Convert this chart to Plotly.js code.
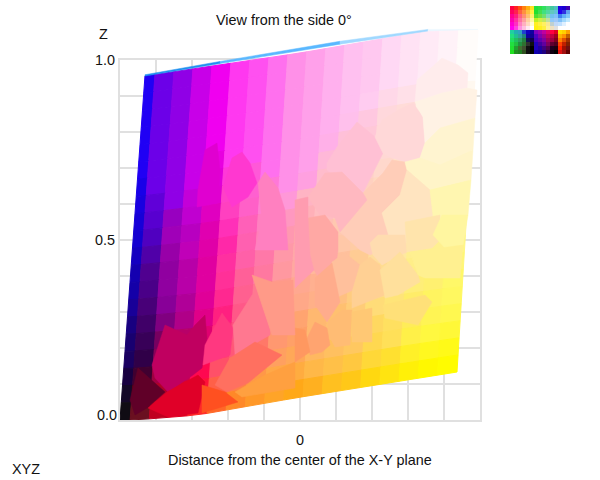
<!DOCTYPE html>
<html><head><meta charset="utf-8"><script src="https://cdn.plot.ly/plotly-3.0.1.min.js"></script>
<style>html,body{margin:0;padding:0;background:#fff}</style></head><body><div id="g" style="width:600px;height:480px"></div>
<script>
// silhouette edges, in axis units
const topEdgeX=[-0.4306,0,0.3556,0.4944];
const topEdgeY=[0.9556,1.0194,1.0806,1.0833];
const bottomEdgeX=[-0.5,-0.4583,-0.2833,-0.0139,0.4361];
const bottomEdgeY=[0,0,0.0139,0.0611,0.1333];
const colEdges=[0,0.03,0.087,0.144,0.201,0.258,0.315,0.372,0.429,0.486,0.543,0.6,0.657,0.714,0.771,0.828,0.885,0.942,1];
// patch colours, one list per column, top to bottom
const patchCols=[
"2000f4 2000f4 2000f4 2000f4 2000f4 2000f4 1800e8 1800e0 1600d8 1400d0 1400c0 1400b0 1400a8 180098 180080 180070 1a0060 180040 140828 100c14",
"6c00e8 6c00e8 6c00e8 6c00e8 6c00e8 6c00e8 6c00e8 6000d8 5800d0 5000c0 5000a8 500090 4a0088 480078 400068 380058 300048 400030 580018 6a1020",
"9000e6 9000e6 9000e6 9000e6 9000e6 9000e6 9000e6 9000e6 9800c0 a000b8 9800a8 9000a0 9000a0 880098 800080 780060 880058 a00040 b00028 c00020",
"c800e8 c800e8 c800e8 c800e8 c800e8 c800e8 c800e8 c400d8 c000d0 b800c0 c000b8 b800a8 b800a8 b00098 b00088 b80068 c00058 c80050 d80030 e00020",
"f000f0 f000f0 f000f0 f000f0 f000f0 e800e0 e000d8 e000d0 e000c0 e000b0 e000a8 e000a0 e000a0 e00098 e00088 e00070 e00060 ff0850 ff1038 ff2828",
"ff38f0 ff38f0 ff38f0 ff38f0 ff38f0 ff38f0 ff38d8 ff40c8 ff40c0 ff30b8 ff28a8 ff30a0 ff3098 ff2890 ff2080 ff3078 ff4070 ff5068 ff6048 ff6828",
"ff50f0 ff50f0 ff50f0 ff50f0 ff50f0 ff50f0 ff58d8 ff60d0 ff60c8 ff60b8 ff60b0 ff60a8 ff6098 ff6090 ff5888 ff5080 ff5878 ff6868 ff8048 ff8828",
"ff70ee ff70ee ff70ee ff70ee ff70ee ff70ee ff70ee ff78d8 ff80d0 ff80c0 ff80b8 ff78a8 ff78a0 ff7890 ff7880 ff7070 ff7868 ff9060 ff9848 ff9828",
"ff90e8 ff90e8 ff90e8 ff90e8 ff90e8 ff90e8 ff90e8 ff90e8 ff98d8 ff98c0 ff98b0 ff98a8 ff98a0 ff9890 ff9888 ff9878 ff9870 ffa060 ffa848 ffa428",
"ffa0ea ffa0ea ffa0ea ffa0ea ffa0ea ffa0ea ffa0ea ffa0e0 ffb4c4 ffb0b8 ffa8a8 ffa8a8 ffa8a0 ffa890 ffa888 ffa470 ffa068 ffa858 ffac40 ffa818",
"ffb0ee ffb0ee ffb0ee ffb0ee ffb0ee ffb0e8 ffb8d8 ffbccc ffbcc4 ffbcc0 ffc0b4 ffc0a8 ffb89c ffb090 ffb088 ffb870 ffb870 ffb860 ffb848 ffb020",
"ffc0f0 ffc0f0 ffc0f0 ffc0f0 ffc0ec ffc0d8 ffc0d4 ffc0d0 ffc8c4 ffcabc ffc8b0 ffc8a8 ffc09c ffc090 ffc080 ffc070 ffc070 ffc060 ffc048 ffc020",
"ffc8f0 ffc8f0 ffc8f0 ffccf0 ffc8e0 ffc8d8 ffcfd4 ffd0c8 ffd0c0 ffd0b8 ffd0b4 ffcca4 ffcc94 ffcc90 ffcc80 ffcc78 ffcc70 ffc860 ffc840 ffc818",
"ffd8f4 ffd8f4 ffd8f4 ffd8e8 ffd8dc ffd8d8 ffd8d4 ffd8cc ffd8c0 ffd8bc ffdcac ffdca8 ffdc9c ffdc90 ffdc88 ffdc78 ffd860 ffd850 ffd838 ffd810",
"ffe2f4 ffe2f4 ffe2f4 ffe0e8 ffdcd8 ffe0d8 ffe2d4 ffe4c8 ffe4c0 ffe4b4 ffe8b0 ffe8a4 ffe8a0 ffe490 ffe488 ffe478 ffe060 ffe058 ffe030 ffe410",
"ffeaf6 ffeaf6 ffeaf6 fff0f0 fff0e4 fff0e0 fff0d4 fff0c8 fff2c0 fff2b0 fff0a8 fff0a0 ffee90 ffee88 ffee78 ffec68 ffec58 fff048 fff028 fff008",
"fff2f8 fff2f8 fff2f8 fff2f0 fff2e4 fff2e0 fff4d4 fff4c4 fff4b8 fff4a8 fff4a0 fff49c fff090 fff080 fff070 fff460 fff454 fff840 fff820 fff800",
"fffcfa fffcfa fffcfa fff8f0 fff8e8 fff6d8 fff6d0 fff6c0 fff6b0 fff6a4 fff6a0 fff698 fff684 fff678 fff868 fff860 fff850 fff838 fffa18 fffc00"
];
// larger irregular colour regions: colour, then outline points (distance, height) in 1/360 axis units
const regionColors=["#ffc0d4","#ffd8d8","#ffcdb8","#ffecec","#fff2e4","#fff4d0","#fff4c8","#ffe4c0","#fff6b0","#ffb8c0","#ffa8a4","#ff9cb0","#ffc09c","#ffdcb0","#ffe4ac","#fff6a0","#ffd094","#ffe09c","#fff090","#ffac8c","#ffbc74","#ffc874","#ffe078","#ffa470","#ff9860","#e000d0","#ff38d0","#ff80c0","#c00060","#ff3880","#ff7890","#ff9a88","#ff7060","#ffa040","#e00028","#ff5020","#600028"];
const regionOutlines=[
"57,298 75,283 83,267 63,227 52,230 27,250 27,257 37,273",
"75,283 82,300 102,312 113,317 123,303 125,277 120,262 105,258 92,262 83,267",
"63,227 83,247 92,260 105,258 107,250 107,220 100,200 85,172 70,165 60,170 40,188 67,220",
"132,353 142,362 158,355 168,347 167,332 142,327 115,318 117,340",
"115,318 142,327 167,332 177,330 175,302 140,292 125,277 123,303",
"125,277 140,292 175,302 173,270 140,255 120,262",
"120,262 140,255 173,270 171,240 130,230 107,250 105,258",
"107,250 130,230 133,205 115,175 90,180 82,207 100,225",
"130,230 171,240 168,205 140,188 133,205",
"8,223 25,247 42,248 63,227 67,220 40,188 35,202 25,205 20,205",
"8,202 25,205 38,188 38,170 37,162 20,140 14,150 10,165",
"-5,220 8,223 8,202 10,165 14,150 -5,132",
"32,158 45,167 60,155 58,132 35,122 32,132",
"70,177 78,185 105,185 107,168 82,155 73,165",
"105,198 140,205 140,180 132,172 107,168",
"133,185 142,205 168,205 163,175 145,172",
"60,155 70,163 80,155 85,125 52,112 52,128",
"80,150 100,168 118,145 120,138 98,125 85,122",
"110,168 142,172 163,175 160,142 125,142 118,145",
"15,142 32,157 40,118 27,98 15,115",
"28,98 42,110 52,110 50,75 35,73 27,88",
"52,108 72,112 72,78 52,78",
"83,115 125,125 132,118 118,95 85,102",
"7,82 15,98 27,92 30,75 22,68 10,65",
"-5,92 5,90 10,68 -5,58",
"-95,270 -83,277 -80,250 -82,217 -103,213 -102,230",
"-68,262 -58,268 -50,257 -43,237 -52,223 -68,213 -77,233",
"-42,237 -35,248 -22,232 -15,210 -12,170 -45,170 -38,200",
"-148,55 -135,95 -113,85 -105,95 -95,105 -93,82 -98,52 -107,45 -132,28 -145,42",
"-95,75 -78,107 -67,92 -70,65 -97,55",
"-67,95 -48,125 -28,125 -30,85 -65,65",
"-48,145 -28,138 -7,140 -5,85 -28,85",
"-70,62 -45,78 -18,65 -52,37 -73,28 -85,35",
"-65,28 -35,45 -5,58 -5,32 -58,23",
"-133,28 -102,45 -95,38 -102,7 -132,3 -152,12",
"-98,35 -75,28 -62,18 -98,7",
"-170,20 -162,52 -135,28 -153,12 -165,5"
];
// thin blue rim along the top edge
const rimColors=["#1e90f0","#5ab8ff","#a0d8ff","#eaf6ff"];
const rimX=[[-0.4306,-0.2222],[-0.2222,0.1111],[0.1111,0.3556],[0.3556,0.4944]];
const rimLow=[[0.9556,0.9900],[0.9900,1.0440],[1.0440,1.0806],[1.0806,1.0833]];
const rimHigh=[[0.9590,0.9960],[0.9960,1.0520],[1.0520,1.0850],[1.0850,1.0850]];
// thumbnail colours
const thumbRows=[
"ff0040 ff2020 ff5010 ff8010 ffb010 ffe020 20e040 30e040 30e060 50d880 40c8a0 50c0c0 2000e0 1800d0 4000b0",
"ff0060 ff2050 ff6040 ff9040 ffc040 fff040 20e030 40e050 40e080 50d8a0 60c8c0 60c0d8 2000f0 3030e0 60a0f0",
"ff0090 ff2080 ff6080 ff9070 ffc070 fff070 50e030 70e040 70e070 80d8c0 70c0f0 80c0f8 4080f0 60b0f8 80c8f8",
"ff00b0 ff30a0 ff70a0 ffa0a0 ffd0a0 fff8a0 c0f020 d0f040 c0e860 c0e0a0 90c8f8 a0c8f8 80c0f8 a0d8fc c0e8ff",
"ff00d0 ff30c0 ff80c0 ffb0c0 ffd8c0 fffcd0 fff020 fff040 fff060 f8e890 c0d0d0 c0d8f8 c0e0ff e0f0ff ffffff",
"ff00f0 ff40e0 ff90e0 ffc0e0 ffe8f0 ffffff fff010 fff020 fff040 fff090 f0e0c0 e0e0e0 ffffff ffffff ffffff",
"20d0a0 20b0b0 30a0c0 2040d0 1000c0 1000a0 8000c0 a000b0 c000a0 e00070 ff0040 e00020 ffe000 ffd000 ffa000",
"20e080 20c090 30a0a0 208080 1000a0 100090 5000c0 8000b0 a00090 c00060 c00040 a00020 ffb000 ff9000 c06000",
"20e060 20c060 30a060 208040 101050 100050 4000c0 6000b0 8000a0 a00060 a00040 800020 ff8000 e05000 a03000",
"20e040 20c040 209040 307030 303030 101010 2000c0 4000a0 6000a0 800060 600030 500020 ff4000 c02000 802000",
"20e030 20a030 407030 405030 101010 000000 2000c0 2000a0 400080 500050 200020 200010 ff2000 a01000 701010",
"20e020 209020 208020 305020 101010 000000 1000b0 1000a0 200080 300040 100010 000000 e01010 a01010 600000"
];
const gridVals=[-0.5,-0.4,-0.3,-0.2,-0.1,0,0.1,0.2,0.3,0.4,0.5];
const gridText=["","","","","","0","","","","",""];
const zVals=[0,0.1,0.2,0.3,0.4,0.5,0.6,0.7,0.8,0.9,1];
const zText=["","","","","","0.5","","","","","1.0"];

function along(xs,ys,x){for(let i=0;i<xs.length-1;i++){if(x<=xs[i+1]){const t=(x-xs[i])/(xs[i+1]-xs[i]);return ys[i]+t*(ys[i+1]-ys[i]);}}return ys[ys.length-1];}
const cols=patchCols.map(r=>r.split(" ").map(h=>"#"+h));
const nc=cols.length,nr=cols[0].length;
function vertex(i,j){
  const u=colEdges[i],v=j/nr;
  const tx=topEdgeX[0]+u*(topEdgeX[3]-topEdgeX[0]),bx=bottomEdgeX[0]+u*(bottomEdgeX[4]-bottomEdgeX[0]);
  const ty=along(topEdgeX,topEdgeY,tx),by=along(bottomEdgeX,bottomEdgeY,bx);
  return [tx+v*(bx-tx),ty+v*(by-ty)];
}
const traces=[];
traces.push({type:"scatter",mode:"none",x:[0],y:[0],hoverinfo:"skip",showlegend:false});
function poly(X,Y,c,w){traces.push({type:"scatter",mode:"lines",x:X,y:Y,xaxis:"x3",yaxis:"y3",fill:"toself",fillcolor:c,line:{color:c,width:w},hoverinfo:"skip",showlegend:false});}
for(let j=0;j<nr;j++)for(let i=0;i<nc;i++){
  const p=[vertex(i,j),vertex(i+1,j),vertex(i+1,j+1),vertex(i,j+1),vertex(i,j)];
  poly(p.map(a=>a[0]),p.map(a=>a[1]),cols[i][j],1);
}
regionOutlines.forEach((s,k)=>{
  const pts=s.split(" ").map(q=>q.split(",").map(Number));pts.push(pts[0]);
  poly(pts.map(a=>a[0]/360),pts.map(a=>a[1]/360),regionColors[k],0.5);
});
rimColors.forEach((c,k)=>{
  poly([rimX[k][0],rimX[k][1],rimX[k][1],rimX[k][0],rimX[k][0]],[rimLow[k][0],rimLow[k][1],rimHigh[k][1],rimHigh[k][0],rimLow[k][0]],c,0.5);
});
const hex=h=>[parseInt(h.slice(0,2),16),parseInt(h.slice(2,4),16),parseInt(h.slice(4,6),16)];
traces.push({type:"image",z:thumbRows.map(r=>r.split(" ").map(hex)),xaxis:"x2",yaxis:"y2",hoverinfo:"skip",x0:0.5,y0:0.5,dx:1,dy:1});

const font={family:"Liberation Sans, Arial, sans-serif",size:14.4,color:"#111"};
const grid={showgrid:true,gridcolor:"#e0e0e0",gridwidth:2,showline:true,linecolor:"#e0e0e0",linewidth:2,mirror:true,zeroline:false,ticks:"",tickfont:font,fixedrange:true};
const note=(t,x,y,a)=>({text:t,x:x/600,y:1-y/480,xref:"paper",yref:"paper",showarrow:false,font:font,xanchor:a||"center",yanchor:"middle"});
const layout={width:600,height:480,margin:{l:0,r:0,t:0,b:0},paper_bgcolor:"#fff",plot_bgcolor:"rgba(0,0,0,0)",showlegend:false,
 xaxis:Object.assign({},grid,{domain:[0.2,0.8],range:[-0.5,0.5],tickmode:"array",tickvals:gridVals,ticktext:gridText,tickangle:0,ticklabelstandoff:6}),
 yaxis:Object.assign({},grid,{domain:[0.125,0.875],range:[0,1],tickmode:"array",tickvals:zVals,ticktext:zText}),
 xaxis2:{domain:[510/600,570/600],range:[0,15],visible:false,anchor:"y2",fixedrange:true},
 yaxis2:{domain:[1-54/480,1-6/480],range:[12,0],visible:false,anchor:"x2",fixedrange:true},
 xaxis3:{domain:[0.2,0.8],range:[-0.5,0.5],visible:false,anchor:"y3",fixedrange:true},
 yaxis3:{domain:[0.125,1],range:[0,420/360],visible:false,anchor:"x3",fixedrange:true},
 annotations:[note("View from the side 0°",284,20),note("Z",103,34),note("0.0",107,415),note("Distance from the center of the X-Y plane",300,460),note("XYZ",26,469)]
};
Plotly.newPlot("g",traces,layout,{displayModeBar:false,staticPlot:true});
</script></body></html>
